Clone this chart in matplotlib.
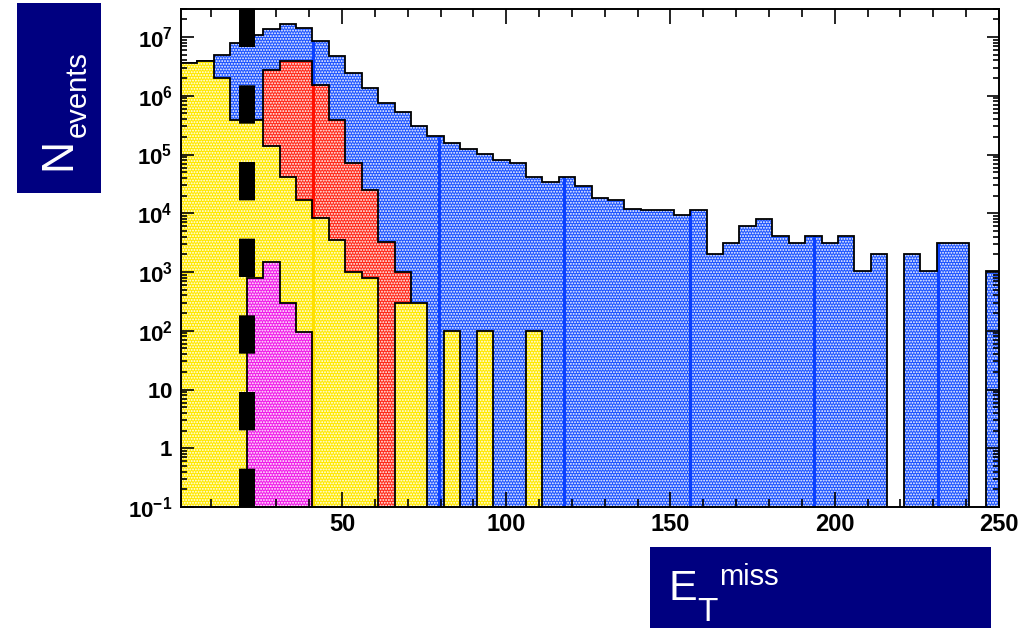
import numpy as np
import matplotlib.pyplot as plt
from matplotlib.patches import Rectangle
from matplotlib.ticker import FixedLocator, FixedFormatter, LogLocator, NullFormatter, MultipleLocator

plt.rcParams['font.family'] = ['Liberation Sans', 'DejaVu Sans']
plt.rcParams['mathtext.fontset'] = 'custom'
plt.rcParams['mathtext.bf'] = 'Liberation Sans:bold'
plt.rcParams['mathtext.rm'] = 'Liberation Sans:bold'
plt.rcParams['mathtext.default'] = 'bf'
plt.rcParams['hatch.linewidth'] = 0.9

# 5 GeV bins from 1 to 251 (axis stops at 250)
bin_edges = np.arange(1, 252, 5)

# events per bin
blue = [3.6e6, 3.9e6, 5.0e6, 7.9e6, 1.1e7, 1.37e7, 1.67e7, 1.43e7, 8.5e6, 4.7e6,
        2.4e6, 1.33e6, 7.4e5, 5.3e5, 3.1e5, 2.1e5, 1.6e5, 1.24e5, 1.02e5, 8.2e4,
        7.2e4, 4.1e4, 3.35e4, 4.1e4, 2.9e4, 1.8e4, 1.7e4, 1.2e4, 1.15e4, 1.15e4,
        9.2e3, 1.15e4, 2.0e3, 3.1e3, 6.1e3, 8.1e3, 4.1e3, 3.1e3, 4.1e3, 3.1e3,
        4.1e3, 1.05e3, 2.0e3, 0, 2.0e3, 1.05e3, 3.1e3, 3.1e3, 0, 1.05e3]
red = [0, 0, 0, 0, 3.9e5, 2.8e6, 3.9e6, 3.9e6, 1.55e6, 3.9e5,
       7.2e4, 2.5e4, 3.2e3, 1.02e3, 0, 0, 0, 0, 0, 0] + [0] * 30
yellow = [3.6e6, 3.9e6, 2.0e6, 3.9e5, 3.9e5, 1.37e5, 4.2e4, 1.7e4, 8.4e3, 3.5e3,
          1.02e3, 7.9e2, 0, 3.0e2, 3.0e2, 0, 1e2, 0, 1e2, 0,
          0, 1e2] + [0] * 28
magenta = [0, 0, 0, 0, 7.9e2, 1.48e3, 2.95e2, 97] + [0] * 42

# vertical seams of the fill pattern
seams = [41.3, 79.4, 117.6, 155.8, 193.8, 231.4]
cut_value = 21

y_ticks = [0.1, 1, 10, 1e2, 1e3, 1e4, 1e5, 1e6, 1e7]
y_labels = ['$10^{-1}$', '$1$', '$10$', '$10^{2}$', '$10^{3}$', '$10^{4}$',
            '$10^{5}$', '$10^{6}$', '$10^{7}$']

W, H = 1032, 628
fig = plt.figure(figsize=(W / 100, H / 100), dpi=100)
ax = fig.add_axes([181 / W, 1 - 507 / H, 818 / W, 498 / H])

floor = 1e-3


def draw_hist(vals, color, seam_color, z):
    v = np.array(vals, dtype=float)
    v = np.where(v > 0, v, floor)
    patch = ax.stairs(v, bin_edges, baseline=floor, fill=True, facecolor=color,
                      edgecolor='white', hatch='......', lw=0, zorder=z)
    for s in seams:
        ln = ax.axvline(s, color=seam_color, lw=2.2, zorder=z + 0.1)
        ln.set_clip_path(patch)
    ax.stairs(v, bin_edges, baseline=floor, fill=False, color='black', lw=1.3,
              zorder=z + 0.2)


draw_hist(blue, '#1f55ff', '#0a40ff', 1)
draw_hist(red, '#ff2a1a', '#ff1000', 2)
draw_hist(yellow, '#ffe800', '#ffe000', 3)
draw_hist(magenta, '#f01ee8', '#f000e0', 4)

ax.axvline(cut_value, color='black', lw=11.5, dashes=(2.4, 2.4),
           solid_capstyle='butt', dash_capstyle='butt', zorder=5)

ax.set_yscale('log')
ax.set_xlim(1, 250)
ax.set_ylim(0.1, 3e7)

ax.xaxis.set_major_locator(MultipleLocator(50))
ax.xaxis.set_minor_locator(MultipleLocator(10))
ax.yaxis.set_major_locator(FixedLocator(y_ticks))
ax.yaxis.set_major_formatter(FixedFormatter(y_labels))
ax.yaxis.set_minor_locator(LogLocator(base=10, subs=np.arange(2, 10)))
ax.yaxis.set_minor_formatter(NullFormatter())

ax.tick_params(axis='both', which='both', direction='in', top=True, right=True,
               width=1.2, color='black')
ax.tick_params(axis='x', which='major', length=11, labelsize=17, pad=4)
ax.tick_params(axis='x', which='minor', length=5.5)
ax.tick_params(axis='y', which='major', length=9, labelsize=16, pad=6)
ax.tick_params(axis='y', which='minor', length=4.5)
for lab in ax.get_xticklabels():
    lab.set_fontweight('bold')
ax.xaxis.set_zorder(10)
ax.yaxis.set_zorder(10)
for sp in ax.spines.values():
    sp.set_linewidth(1.4)
    sp.set_zorder(10)

# navy label boxes
fig.add_artist(Rectangle((16.7 / W, 1 - 192.7 / H), 84.3 / W, 189.4 / H,
                         transform=fig.transFigure, color='#000080', lw=0))
fig.add_artist(Rectangle((650 / W, 0), 340.7 / W, 81.3 / H,
                         transform=fig.transFigure, color='#000080', lw=0))

fig.text(70 / W, 1 - 170 / H, 'N', rotation=90, rotation_mode='anchor',
         ha='left', va='baseline', color='white', fontsize=32)
fig.text(86 / W, 1 - 137 / H, 'events', rotation=90, rotation_mode='anchor',
         ha='left', va='baseline', color='white', fontsize=21)
fig.text(669 / W, 1 - 600 / H, 'E', ha='left', va='baseline', color='white',
         fontsize=31)
fig.text(697 / W, 1 - 621 / H, 'T', ha='left', va='baseline', color='white',
         fontsize=24)
fig.text(719 / W, 1 - 585 / H, 'miss', ha='left', va='baseline', color='white',
         fontsize=21)

fig.savefig('out.png', dpi=100)
